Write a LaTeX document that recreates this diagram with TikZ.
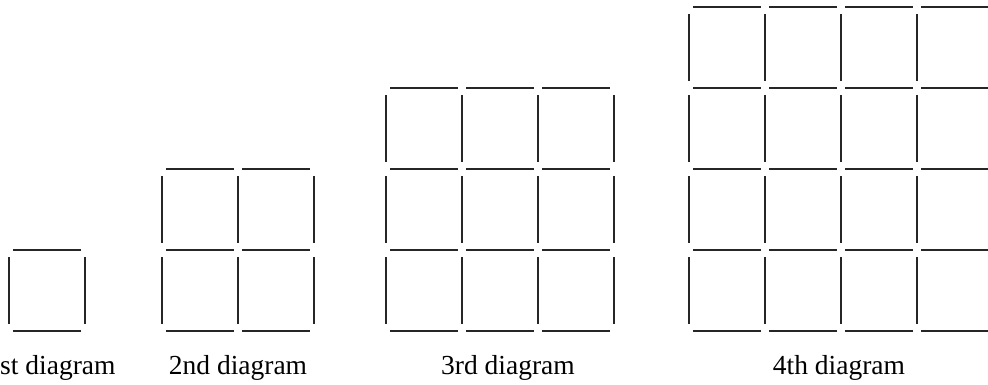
\documentclass[tikz,border=0pt]{standalone}
\usepackage{fontspec}
\setmainfont{Liberation Serif}
\begin{document}
\begin{tikzpicture}[x=1pt, y=1pt,
    stick/.style={line width=1.5pt, color=black!85},
    caption/.style={anchor=base, inner sep=0pt, font=\fontsize{27.5}{32}\selectfont}]
  \clip (0,0) rectangle (988,385);
  % n-th diagram: n x n squares of sticks, left edge at \xo
  \foreach \n/\xo in {1/9, 2/162, 3/386, 4/689} {
    % horizontal sticks
    \foreach \r in {0,...,\n}
      \foreach \c in {1,...,\n}
        \draw[stick] ({\xo+(\c-1)*76+4}, {54+\r*81}) -- ({\xo+\c*76-4}, {54+\r*81});
    % vertical sticks
    \foreach \r in {1,...,\n}
      \foreach \c in {0,...,\n}
        \draw[stick] ({\xo+\c*76}, {54+(\r-1)*81+7}) -- ({\xo+\c*76}, {54+\r*81-7});
  }
  \node[caption] (cap1) at (51,10) {1st diagram};
  \node[caption] (cap2) at (238,10) {2nd diagram};
  \node[caption] (cap3) at (508,10) {3rd diagram};
  \node[caption] (cap4) at (839,10) {4th diagram};
\end{tikzpicture}
\end{document}
